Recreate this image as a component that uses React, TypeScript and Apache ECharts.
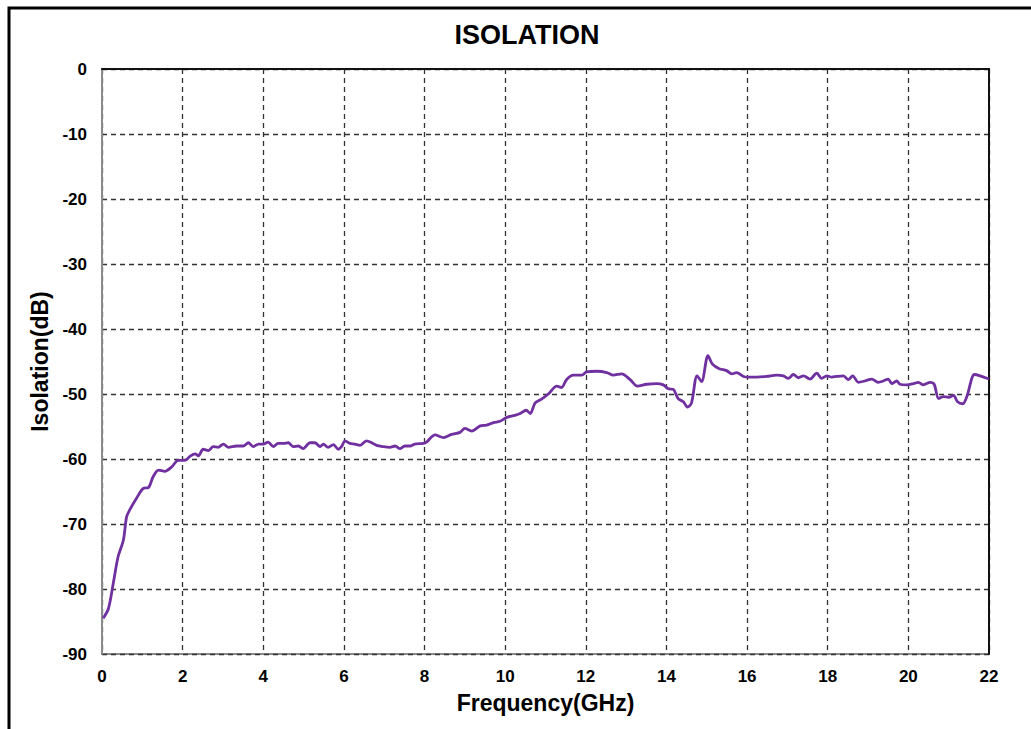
import React, { useEffect, useRef } from "react";
import * as echarts from "echarts";

const freqGHz: number[] = [
  0.03, 0.16, 0.28, 0.4, 0.53, 0.61, 0.69, 0.86, 1.03, 1.15, 1.27, 1.4, 1.56, 1.73, 1.89,
  2.06, 2.18, 2.31, 2.39, 2.51, 2.64, 2.76, 2.88, 3.01, 3.13, 3.34, 3.51, 3.63, 3.75, 3.88,
  4.0, 4.12, 4.25, 4.37, 4.5, 4.62, 4.74, 4.87, 4.99, 5.16, 5.28, 5.41, 5.49, 5.61, 5.74,
  5.86, 5.94, 6.03, 6.15, 6.27, 6.4, 6.56, 6.69, 6.81, 6.98, 7.14, 7.27, 7.39, 7.51, 7.64,
  7.76, 7.97, 8.05, 8.26, 8.47, 8.67, 8.88, 9.0, 9.17, 9.38, 9.54, 9.71, 9.87, 10.04, 10.24,
  10.37, 10.52, 10.62, 10.74, 10.9, 11.07, 11.28, 11.4, 11.52, 11.69, 11.9, 12.02, 12.27,
  12.52, 12.68, 12.89, 13.1, 13.28, 13.51, 13.76, 13.92, 14.05, 14.17, 14.29, 14.42, 14.52,
  14.62, 14.76, 14.87, 15.03, 15.14, 15.31, 15.49, 15.62, 15.74, 15.91, 16.03, 16.24, 16.49,
  16.73, 16.9, 17.02, 17.15, 17.27, 17.4, 17.56, 17.73, 17.85, 17.98, 18.1, 18.22, 18.39,
  18.51, 18.62, 18.76, 18.92, 19.09, 19.25, 19.38, 19.5, 19.59, 19.71, 19.79, 19.96, 20.13,
  20.25, 20.37, 20.54, 20.64, 20.75, 20.87, 21.0, 21.12, 21.22, 21.35, 21.45, 21.64, 21.78,
  22.0,
];

const isolationDb: number[] = [
  -84.5, -83.0, -79.1, -75.0, -72.5, -68.9, -67.8, -66.0, -64.5, -64.4, -62.7, -61.7, -61.9, -61.2, -60.2,
  -60.2, -59.6, -59.2, -59.5, -58.5, -58.7, -58.1, -58.2, -57.7, -58.2, -58.0, -58.0, -57.5, -58.1, -57.7,
  -57.7, -57.4, -58.1, -57.6, -57.6, -57.5, -58.1, -58.0, -58.4, -57.5, -57.5, -58.1, -57.7, -58.2, -57.8,
  -58.5, -58.1, -57.2, -57.6, -57.7, -57.9, -57.2, -57.5, -57.9, -58.1, -58.2, -58.0, -58.4, -58.0, -58.0,
  -57.7, -57.6, -57.4, -56.3, -56.7, -56.2, -55.9, -55.3, -55.7, -54.9, -54.8, -54.4, -54.2, -53.6, -53.3,
  -53.0, -52.5, -53.0, -51.4, -50.8, -50.0, -48.8, -49.0, -47.8, -47.1, -47.1, -46.6, -46.5,
  -46.7, -47.1, -46.9, -47.8, -48.8, -48.5, -48.4, -48.6, -49.2, -49.3, -50.7, -51.2, -52.0,
  -51.4, -47.2, -48.1, -44.1, -45.4, -46.1, -46.4, -46.9, -46.7, -47.3, -47.4, -47.4, -47.3,
  -47.1, -47.2, -47.6, -47.0, -47.5, -47.2, -47.7, -46.8, -47.6, -47.2, -47.4, -47.3, -47.2,
  -47.8, -47.2, -48.2, -48.0, -47.7, -48.2, -48.0, -47.7, -48.4, -48.0, -48.5, -48.6, -48.4,
  -48.2, -48.6, -48.2, -48.5, -50.7, -50.4, -50.5, -50.2, -51.2, -51.5, -50.4, -47.0, -47.2,
  -47.7,
];

const xTicks = { min: 0, max: 22, interval: 2 };
const yTicks = { min: -90, max: 0, interval: 10 };

export default function App() {
  const ref = useRef<HTMLDivElement>(null);
  useEffect(() => {
    if (!ref.current) return;
    const chart = echarts.init(ref.current, undefined, { renderer: "svg" });
    const font = "'Liberation Sans', Arial, sans-serif";
    const gridLine = { show: true, lineStyle: { color: "#333", width: 1.3, type: [5, 4] as any } };
    chart.setOption({
      animation: false,
      backgroundColor: "#fff",
      textStyle: { fontFamily: font },
      graphic: [
        {
          type: "rect",
          shape: { x: 9, y: 8, width: 1100, height: 800 },
          style: { fill: "none", stroke: "#000", lineWidth: 3 },
          silent: true,
        },
        {
          type: "text",
          x: 527,
          y: 35,
          style: {
            text: "ISOLATION",
            fontFamily: font,
            fontWeight: "bold",
            fontSize: 27,
            fill: "#000",
            align: "center",
            verticalAlign: "middle",
          },
        },
      ],
      grid: {
        left: 102,
        right: 42,
        top: 69,
        bottom: 75,
        show: true,
        borderColor: "#8a8a8a",
        borderWidth: 2,
      },
      xAxis: {
        type: "value",
        min: xTicks.min,
        max: xTicks.max,
        interval: xTicks.interval,
        name: "Frequency(GHz)",
        nameLocation: "middle",
        nameGap: 37,
        nameTextStyle: { fontFamily: font, fontWeight: "bold", fontSize: 23, color: "#000" },
        axisLine: { show: true, lineStyle: { color: "#111", width: 2 } },
        axisTick: { show: false },
        axisLabel: { fontFamily: font, fontWeight: "bold", fontSize: 17, color: "#000", margin: 14 },
        splitLine: gridLine,
      },
      yAxis: [
        {
          type: "value",
          min: yTicks.min,
          max: yTicks.max,
          interval: yTicks.interval,
          name: "Isolation(dB)",
          nameLocation: "middle",
          nameGap: 47,
          nameTextStyle: { fontFamily: font, fontWeight: "bold", fontSize: 23, color: "#000" },
          axisLine: { show: true, lineStyle: { color: "#8a8a8a", width: 2 } },
          axisTick: { show: false },
          axisLabel: { fontFamily: font, fontWeight: "bold", fontSize: 17, color: "#000", margin: 15 },
          splitLine: gridLine,
        },
        {
          type: "value",
          position: "right",
          min: yTicks.min,
          max: yTicks.max,
          interval: yTicks.interval,
          axisLine: { show: true, lineStyle: { color: "#111", width: 2 } },
          axisTick: { show: false },
          axisLabel: { show: false },
          splitLine: { show: false },
        },
      ],
      series: [
        {
          type: "line",
          data: freqGHz.map((f, i) => [f, isolationDb[i]]),
          showSymbol: false,
          smooth: 0.3,
          lineStyle: { color: "#7030A0", width: 2.8 },
          itemStyle: { color: "#7030A0" },
          z: 5,
        },
      ],
    });
    return () => chart.dispose();
  }, []);
  return (
    <div
      ref={ref}
      style={{ position: "fixed", left: 0, top: 0, width: 1031, height: 729 }}
    />
  );
}
